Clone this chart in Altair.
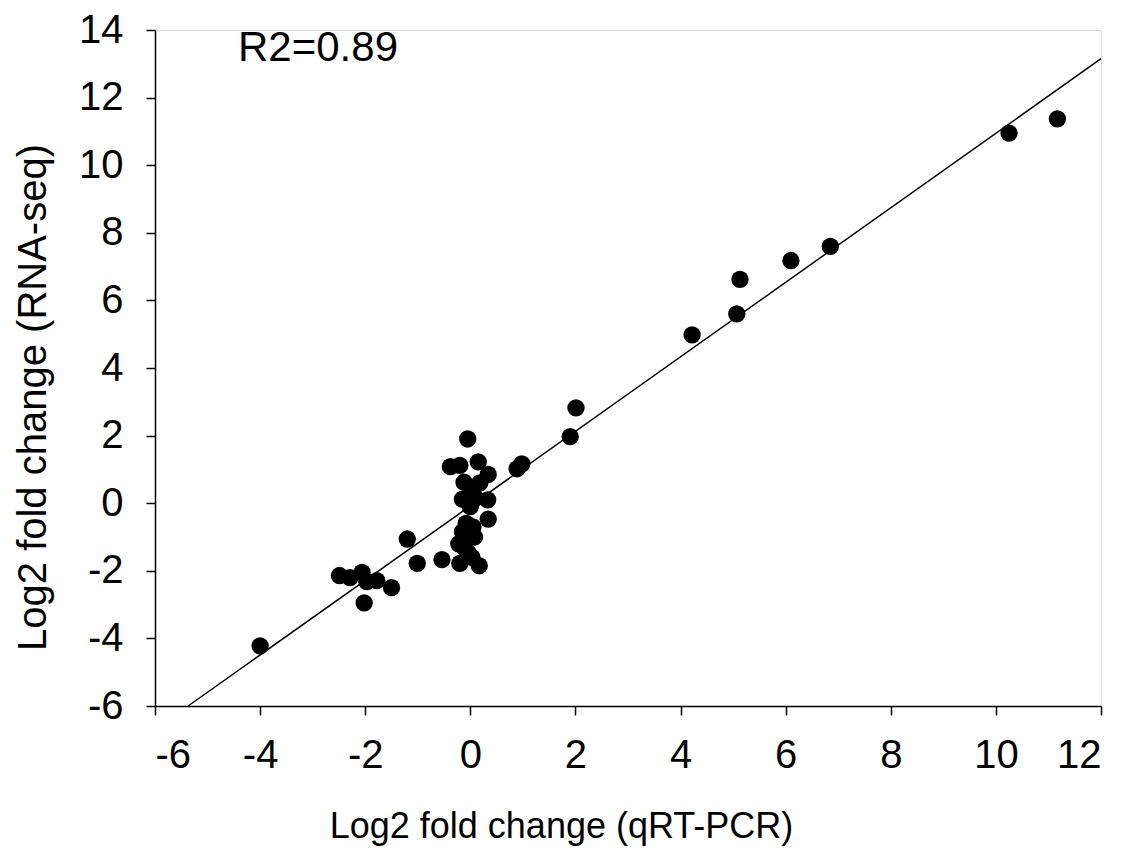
import altair as alt
import pandas as pd

# Points
qpcr = [
    -0.05, -0.38, -0.20, 0.15, 0.34, -0.12, 0.18, 0.05, -0.15, 0.33,
    0.00, 0.10, 0.34, -0.08, 0.05, -0.15, -0.22, -0.05, -0.20, 0.03,
    0.17, -0.12, 0.08,
    -0.54, -1.01, -1.20, -1.50, -2.02, -1.78, -1.97, -2.06, -2.29, -2.49,
    -4.00, 0.89, 0.98, 1.90, 2.01, 4.22, 5.07, 5.13, 6.10, 6.85, 10.25, 11.17,
]
rnaseq = [
    1.90, 1.08, 1.12, 1.22, 0.85, 0.62, 0.60, 0.40, 0.12, 0.10,
    -0.10, 0.15, -0.47, -0.60, -0.70, -0.85, -1.20, -1.45, -1.78, -1.60,
    -1.85, -1.30, -1.00,
    -1.67, -1.78, -1.06, -2.50, -2.95, -2.29, -2.32, -2.05, -2.20, -2.14,
    -4.22, 1.02, 1.16, 1.97, 2.82, 4.98, 5.60, 6.62, 7.18, 7.60, 10.95, 11.37,
]

# Fitted line end points
fit_x = [-5.37, 12.0]
fit_y = [-6.0, 13.15]

# Annotation
label_text = ["R2=0.89"]
label_x = [-4.42]
label_y = [13.08]

x_ticks = [-6, -4, -2, 0, 2, 4, 6, 8, 10, 12]
y_ticks = [-6, -4, -2, 0, 2, 4, 6, 8, 10, 12, 14]

pts = pd.DataFrame({"x": qpcr, "y": rnaseq})
fit = pd.DataFrame({"x": fit_x, "y": fit_y})
lab = pd.DataFrame({"x": label_x, "y": label_y, "t": label_text})

FONT = "Liberation Sans"

xscale = alt.Scale(domain=[-6, 12], nice=False, zero=False)
yscale = alt.Scale(domain=[-6, 14], nice=False, zero=False)

xaxis = alt.Axis(
    values=x_ticks, grid=False, domainColor="black", domainWidth=1.5,
    tickColor="black", tickWidth=1.5, tickSize=9, labelFontSize=40,
    labelFont=FONT, labelColor="black", labelPadding=20,
    labelExpr="toString(datum.value)",
    title="Log2 fold change (qRT-PCR)", titleFont=FONT, titleFontSize=36,
    titleFontWeight="normal", titleColor="black", titleX=406, titleY=131,
    titleBaseline="alphabetic", titleAlign="center",
)
yaxis = alt.Axis(
    values=y_ticks, grid=False, domainColor="black", domainWidth=1.5,
    tickColor="black", tickWidth=1.5, tickSize=9, labelFontSize=40,
    labelFont=FONT, labelColor="black", labelPadding=23,
    labelExpr="toString(datum.value)",
    title="Log2 fold change (RNA-seq)", titleFont=FONT, titleFontSize=40,
    titleFontWeight="normal", titleColor="black", titleX=-110, titleY=367,
    titleBaseline="alphabetic", titleAlign="center", titleAngle=270,
)

line = alt.Chart(fit).mark_line(color="black", strokeWidth=1.5).encode(
    x=alt.X("x:Q", scale=xscale, axis=xaxis),
    y=alt.Y("y:Q", scale=yscale, axis=yaxis),
)
points = alt.Chart(pts).mark_circle(color="black", size=300, opacity=1).encode(
    x=alt.X("x:Q", scale=xscale),
    y=alt.Y("y:Q", scale=yscale),
)
text = alt.Chart(lab).mark_text(
    align="left", baseline="alphabetic", fontSize=42, font=FONT, color="black"
).encode(
    x=alt.X("x:Q", scale=xscale),
    y=alt.Y("y:Q", scale=yscale),
    text="t:N",
)

chart = (
    alt.layer(line, points, text)
    .properties(
        width=946, height=676,
        autosize=alt.AutoSizeParams(type="none"),
        padding={"left": 147, "top": 22, "right": 20, "bottom": 144},
    )
    .configure_view(stroke=None)
    .configure(background="white")
)

chart.save("out.html", embed_options={"renderer": "svg", "actions": False})
